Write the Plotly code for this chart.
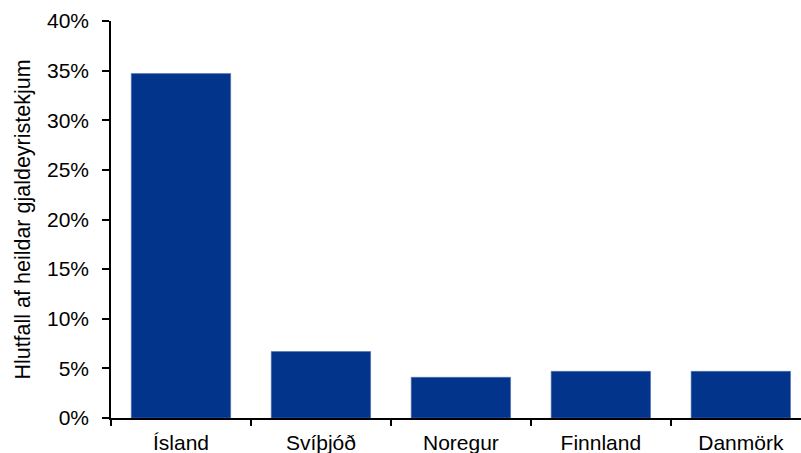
import plotly.graph_objects as go

categories = ["Ísland", "Svíþjóð", "Noregur", "Finnland", "Danmörk"]
values = [34.7, 6.7, 4.1, 4.7, 4.7]
y_ticks = [0, 5, 10, 15, 20, 25, 30, 35, 40]
y_tick_text = [f"{v}%" for v in y_ticks]
y_title = "Hlutfall af heildar gjaldeyristekjum"

fig = go.Figure(go.Bar(
    x=categories, y=values, width=0.71,
    marker=dict(color="#03348C", line=dict(color="#5070B0", width=0.6)),
))

fig.update_layout(
    width=801, height=453,
    margin=dict(l=111, r=0, t=21, b=35),
    plot_bgcolor="white", paper_bgcolor="white",
    font=dict(family="Liberation Sans, Arial, sans-serif", color="black", size=21),
    showlegend=False,
)
fig.update_xaxes(
    range=[-0.5, 4.43], showline=True, linecolor="black", linewidth=1.5,
    ticks="outside", tickson="boundaries", ticklen=6, tickcolor="black", tickwidth=1.5,
    tickfont=dict(size=21), showgrid=False, fixedrange=True,
    ticklabelstandoff=5,
)
fig.update_yaxes(
    range=[0, 40], tickmode="array", tickvals=y_ticks, ticktext=y_tick_text,
    showline=True, linecolor="black", linewidth=1.5,
    ticks="outside", ticklen=7, tickcolor="black", tickwidth=1.5,
    tickfont=dict(size=21), showgrid=False, zeroline=False,
    title=dict(text=y_title, font=dict(size=21.5), standoff=10),
    ticklabelstandoff=9,
)

fig.write_html("out.html", config={"displayModeBar": False})
